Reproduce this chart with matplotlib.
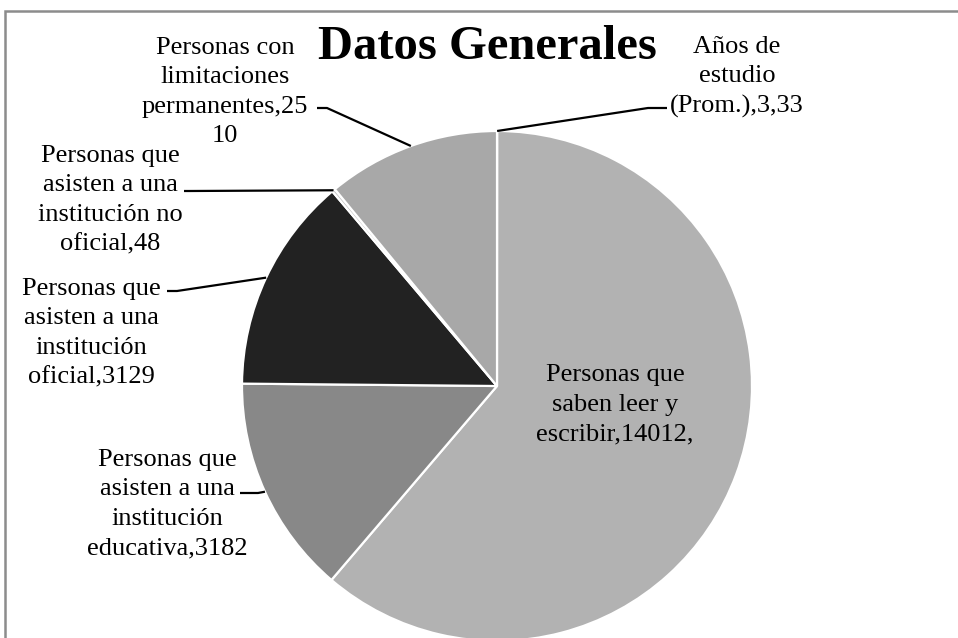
import numpy as np
import matplotlib
matplotlib.use("Agg")
import matplotlib.pyplot as plt
from matplotlib.patches import Rectangle

plt.rcParams['font.family'] = ['Liberation Serif', 'DejaVu Serif']

# ---- data ----
categories = [
    "Años de\nestudio\n(Prom.),3,33",
    "Personas que\nsaben leer y\nescribir,14012,",
    "Personas que\nasisten a una\ninstitución\neducativa,3182",
    "Personas que\nasisten a una\ninstitución\noficial,3129",
    "Personas que\nasisten a una\ninstitución no\noficial,48",
    "Personas con\nlimitaciones\npermanentes,25\n10",
]
values = [3.33, 14012, 3182, 3129, 48, 2510]
colors = ["#d9d9d9", "#b2b2b2", "#888888", "#222222", "#c8c8c8", "#a8a8a8"]
title = "Datos Generales"

W, H = 958, 638
fig = plt.figure(figsize=(W / 100, H / 100), dpi=100)
ax = fig.add_axes([0, 0, 1, 1])

cx, cy, R = 497, H - 386, 255
wedges, _ = ax.pie(values, colors=colors, startangle=90, counterclock=False,
                   center=(cx, cy), radius=R,
                   wedgeprops=dict(edgecolor="white", linewidth=1.6))
ax.set_xlim(0, W)
ax.set_ylim(0, H)
ax.set_aspect("equal")
ax.axis("off")

# border (extends beyond right/bottom)
fig.patches.append(Rectangle((5, -50), 1100, H - 11 + 50, transform=None,
                             fill=False, edgecolor="#8c8c8c", linewidth=1.8))

# label layout (pixel coords from top-left): text center, leader anchor, stub end
label_pos = [(737, 77), (615, 405), (167, 504), (91, 333), (110, 200), (225, 92)]
anchors = [((667, 108), (648, 108)), None, ((240, 493), (258, 493)),
           ((167, 291), (177, 291)), ((184, 191), (190, 191)),
           ((317, 108), (327, 108))]

for i, (w, lab) in enumerate(zip(wedges, categories)):
    tx, ty = label_pos[i]
    ax.text(tx, H - ty, lab, ha="center", va="center", fontsize=19,
            linespacing=1.45, color="black")
    if anchors[i] is not None:
        mid = np.deg2rad((w.theta1 + w.theta2) / 2)
        ex, ey = cx + R * np.cos(mid), cy + R * np.sin(mid)
        (ax1, ay1), (ax2, ay2) = anchors[i]
        ax.plot([ax1, ax2, ex], [H - ay1, H - ay2, ey], color="black", lw=1.6,
                solid_capstyle="butt", zorder=5)

ax.text(487, H - 47, title, ha="center", va="center", fontsize=35,
        fontweight="bold", color="black")

fig.savefig("out.png", dpi=100)
